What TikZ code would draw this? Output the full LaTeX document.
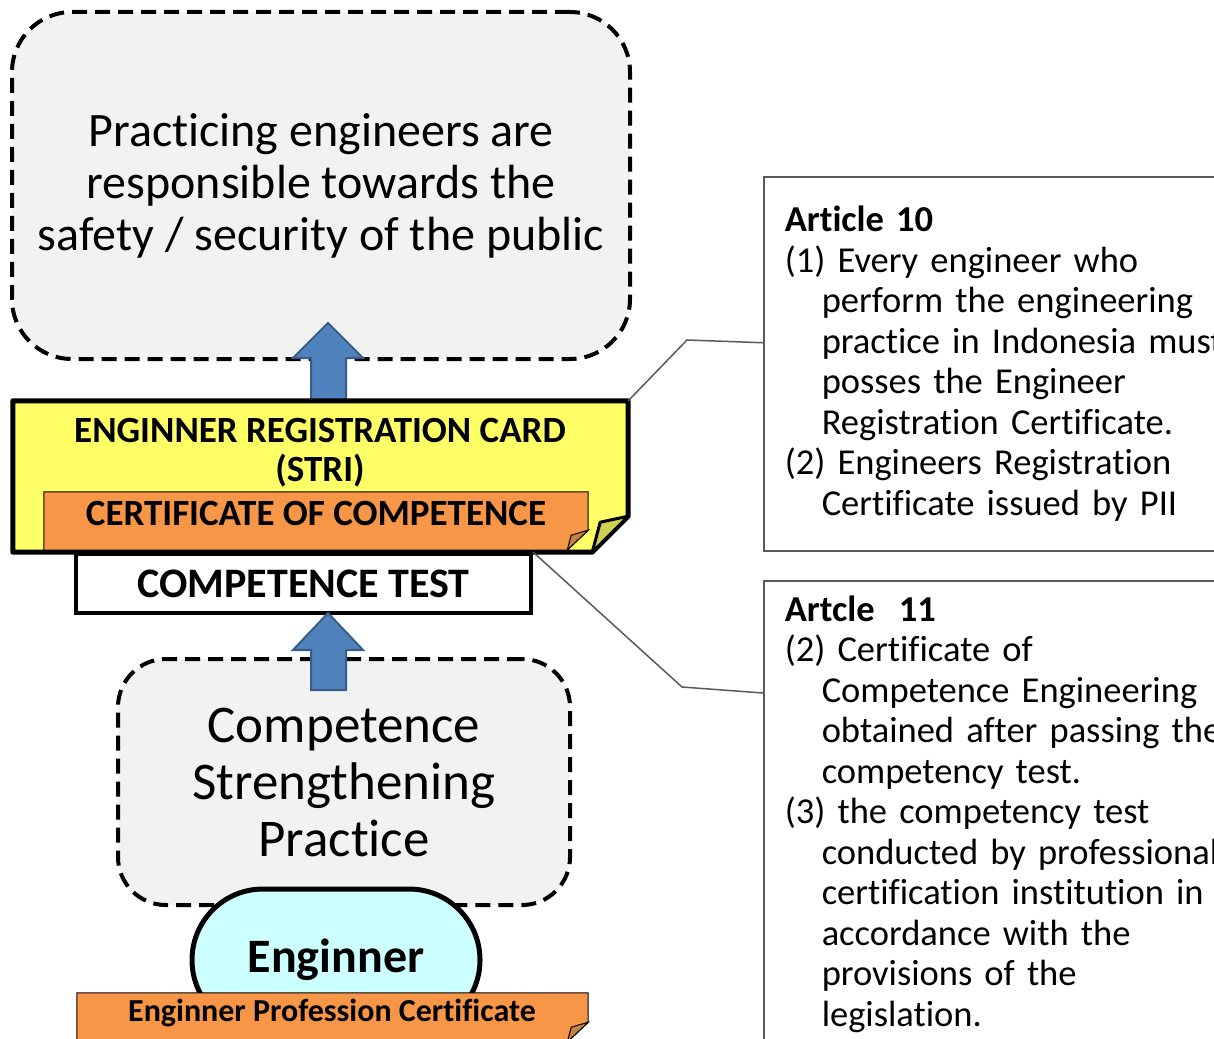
\documentclass[tikz,border=0pt]{standalone}
\usepackage{fontspec}
\setmainfont{Carlito}[Ligatures=NoCommon]
\usepackage{xcolor}
\usepackage{tikz}
\usetikzlibrary{positioning, calc}

\definecolor{panelgray}{HTML}{F2F2F2}
\definecolor{cardyellow}{HTML}{FFFF66}
\definecolor{flapyellow}{HTML}{CFCF52}
\definecolor{certorange}{HTML}{F79646}
\definecolor{flaporange}{HTML}{C8803E}
\definecolor{enggcyan}{HTML}{CCFFFF}
\definecolor{arrowblue}{HTML}{4F81BD}
\definecolor{arrowedge}{HTML}{385D8A}
\definecolor{calloutgray}{HTML}{595959}

\begin{document}
\begin{tikzpicture}[
    x=1pt, y=-1pt,
    dashpanel/.style={rectangle, draw=black, line width=4pt, dash pattern=on 15pt off 8pt, fill=panelgray, align=center},
    frame/.style={rectangle, inner sep=0pt},
    cardbody/.style={draw=black, line width=5pt, line join=round, fill=cardyellow},
    cardflap/.style={draw=black, line width=3pt, line join=round, fill=flapyellow},
    certbody/.style={draw=black, line width=1pt, fill=certorange},
    certflap/.style={draw=black, line width=1pt, fill=flaporange},
    capslabel/.style={font=\fontsize{37}{39}\selectfont\bfseries, align=center, inner sep=0pt},
    testbox/.style={rectangle, draw=black, line width=4pt, fill=white, minimum width=455pt, minimum height=59pt, font=\fontsize{42}{46}\selectfont\bfseries},
    engineer/.style={rectangle, rounded corners=71pt, draw=black, line width=5pt, fill=enggcyan, minimum width=288pt, minimum height=142pt, font=\fontsize{48}{52}\selectfont\bfseries},
    bigarrow/.style={draw=arrowedge, line width=2pt, fill=arrowblue},
    articlebox/.style={rectangle, draw=calloutgray, line width=1.5pt, fill=white, text width=600pt, inner xsep=21pt, align=left, font={\fontsize{36.5}{40.5}\selectfont\parindent=0pt}},
    callout/.style={draw=calloutgray, line width=1.5pt}
]
    \useasboundingbox (0,0) rectangle (1214,1038);
    \clip (0,0) rectangle (1214,1038);

    % Top goal panel
    \node[dashpanel, rounded corners=60pt, minimum width=618pt, minimum height=347pt, font=\fontsize{48}{52}\selectfont] (duty) at (321,185.5) {Practicing engineers are\\responsible towards the\\safety / security of the public};

    % Arrow card -> duty
    \path[bigarrow] (311,401) -- (311,358) -- (293,358) -- (328,323) -- (363,358) -- (346,358) -- (346,401) -- cycle;

    % Competence test
    \node[testbox] (test) at (303.5,583.5) {COMPETENCE TEST};

    % Registration card with folded corner
    \node[frame, minimum width=615pt, minimum height=151pt] (card) at (320.5,476.5) {};
    \path[cardbody] (card.north west) -- (card.north east) -- ([yshift=36pt]card.south east) -- ([xshift=-36pt]card.south east) -- (card.south west) -- cycle;
    \path[cardflap] ([yshift=36pt]card.south east) -- ++(-28,6) -- ([xshift=-36pt]card.south east) -- cycle;
    \node[capslabel] (cardtext) at (320,453) {ENGINNER REGISTRATION CARD\\(STRI)};

    % Certificate of competence
    \node[frame, minimum width=544pt, minimum height=58pt] (cert) at (316,521) {};
    \path[certbody] (cert.north west) -- (cert.north east) -- ([yshift=20pt]cert.south east) -- ([xshift=-21pt]cert.south east) -- (cert.south west) -- cycle;
    \path[certflap] ([yshift=20pt]cert.south east) -- ++(-17,5) -- ([xshift=-21pt]cert.south east) -- cycle;
    \node[capslabel] (certtext) at (316,513) {CERTIFICATE OF COMPETENCE};

    % Practice panel
    \node[dashpanel, rounded corners=48pt, minimum width=452pt, minimum height=246pt, font=\fontsize{53}{57}\selectfont] (practice) at (344,782) {Competence\\Strengthening\\Practice};

    % Arrow practice -> test
    \path[bigarrow] (311,690) -- (311,650) -- (293,650) -- (328,613) -- (363,650) -- (346,650) -- (346,690) -- cycle;

    % Engineer and profession certificate
    \node[engineer] (eng) at (336,960) {Enginner};
    \node[frame, minimum width=511pt, minimum height=49pt] (strip) at (332.5,1017.5) {};
    \path[certbody] (strip.north west) -- (strip.north east) -- ([yshift=20pt]strip.south east) -- ([xshift=-21pt]strip.south east) -- (strip.south west) -- cycle;
    \path[certflap] ([yshift=20pt]strip.south east) -- ++(-17,5) -- ([xshift=-21pt]strip.south east) -- cycle;
    \node[capslabel, font=\fontsize{32}{36}\selectfont\bfseries] (striptext) at (332,1013) {Enginner Profession Certificate};

    % Law articles
    \node[articlebox, minimum height=374pt, anchor=north west] (art10) at (763,176) {%
        \textbf{Article 10}\\
        (1) Every engineer who\\
        \hspace*{37pt}perform the engineering\\
        \hspace*{37pt}practice in Indonesia must\\
        \hspace*{37pt}posses the Engineer\\
        \hspace*{37pt}Registration Certificate.\\
        (2) Engineers Registration\\
        \hspace*{37pt}Certificate issued by PII};
    \node[articlebox, inner ysep=15pt, anchor=north west] (art11) at (763,580) {%
        \textbf{Artcle\ \ 11}\\
        (2) Certificate of\\
        \hspace*{37pt}Competence Engineering\\
        \hspace*{37pt}obtained after passing the\\
        \hspace*{37pt}competency test.\\
        (3) the competency test\\
        \hspace*{37pt}conducted by professional\\
        \hspace*{37pt}certification institution in\\
        \hspace*{37pt}accordance with the\\
        \hspace*{37pt}provisions of the\\
        \hspace*{37pt}legislation.};

    % Callouts
    \draw[callout] (card.north east) -- (687,340) -- ([yshift=21pt]art10.west);
    \draw[callout] (test.north east) -- (682,687) -- ([yshift=-113pt]art11.north west);
\end{tikzpicture}
\end{document}
